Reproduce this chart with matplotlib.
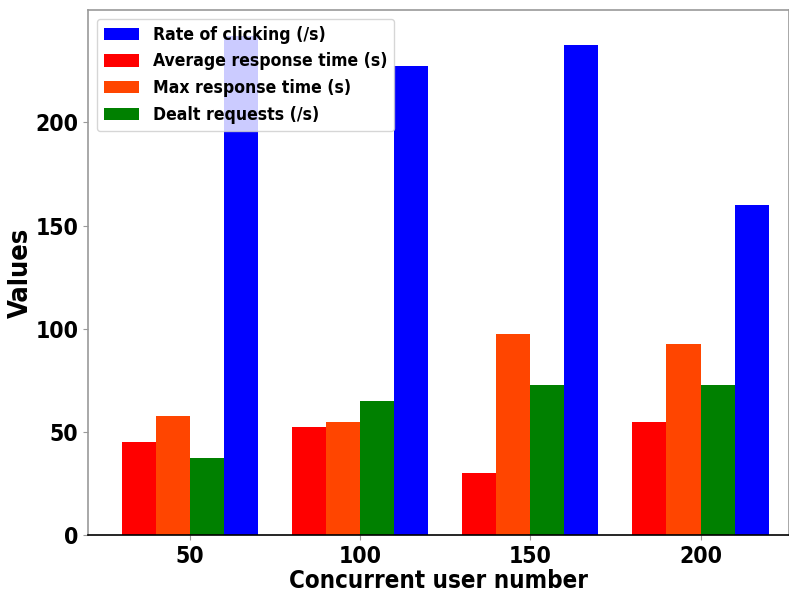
import numpy as np
import matplotlib
matplotlib.use('Agg')
import matplotlib.pyplot as plt

plt.rcParams['font.family'] = ['DejaVu Sans']
plt.rcParams['font.stretch'] = 'condensed'
plt.rcParams['font.weight'] = 'bold'

# data
users = ['50', '100', '150', '200']
avg_response = [45, 52.5, 30, 55]
max_response = [57.5, 55, 97.5, 92.5]
dealt_requests = [37.5, 65, 72.5, 72.5]
click_rate = [242, 227.5, 237.5, 160]
yticks = [0, 50, 100, 150, 200]

x = np.arange(len(users))
w = 0.2

fig = plt.figure(figsize=(7.89, 5.94), dpi=100)
ax = fig.add_axes([88/789, 59/594, 1 - 88/789, 525/594])

b1 = ax.bar(x - 1.5*w, avg_response, w, color='red', label='Average response time (s)')
b2 = ax.bar(x - 0.5*w, max_response, w, color='orangered', label='Max response time (s)')
b3 = ax.bar(x + 0.5*w, dealt_requests, w, color='green', label='Dealt requests (/s)')
b4 = ax.bar(x + 1.5*w, click_rate, w, color='blue', label='Rate of clicking (/s)')

ax.set_xticks(x)
ax.set_xticklabels(users)
ax.set_xlim(-0.6, 3.52)
ax.set_ylim(0, 254.5)
ax.set_yticks(yticks)
ax.tick_params(labelsize=16.5, colors='black')
ax.tick_params(axis='both', color='#999999')
for s in ['left', 'top', 'right']:
    ax.spines[s].set_color('#999999')
    ax.spines[s].set_linewidth(1.2)
ax.spines['bottom'].set_color('black')
ax.spines['bottom'].set_linewidth(1.2)

ax.set_xlabel('Concurrent user number', fontsize=17.3, fontweight='bold', labelpad=1)
ax.set_ylabel('Values', fontweight='bold', fontsize=19.5)
ax.yaxis.set_label_coords(-0.077, 0.5)

ax.legend(handles=[b4, b1, b2, b3], loc='upper left',
          prop={'weight': 'bold', 'size': 12.6, 'stretch': 'condensed'})

fig.savefig('out.png', dpi=100)
